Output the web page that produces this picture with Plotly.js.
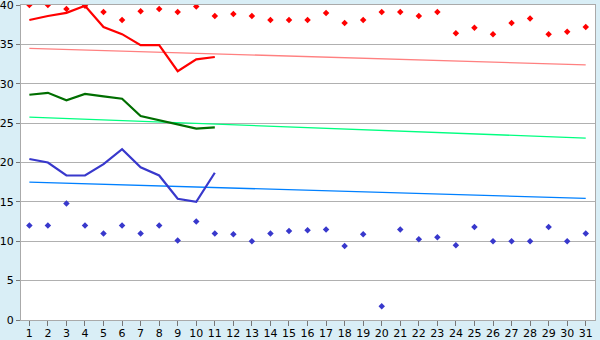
<!DOCTYPE html>
<html>
<head>
<meta charset="utf-8">
<script src="https://cdn.plot.ly/plotly-3.0.1.min.js"></script>
<style>html,body{margin:0;padding:0;background:#d9eef6;}#chart{width:600px;height:340px;}</style>
</head>
<body>
<div id="chart"></div>
<script>
const days = [1,2,3,4,5,6,7,8,9,10,11,12,13,14,15,16,17,18,19,20,21,22,23,24,25,26,27,28,29,30,31];
const tickLabels = days.map(String);
const redPoints = [40.0,40.0,39.5,39.9,39.1,38.1,39.2,39.5,39.1,39.8,38.6,38.85,38.6,38.1,38.1,38.1,39.0,37.7,38.1,39.1,39.1,38.6,39.1,36.4,37.1,36.3,37.7,38.3,36.3,36.6,37.2];
const redLineDays = [1,2,3,4,5,6,7,8,9,10,11];
const redLine = [38.1,38.6,39.0,39.9,37.2,36.3,34.9,34.9,31.6,33.1,33.4];
const greenLine = [28.6,28.85,27.9,28.7,28.4,28.1,25.9,25.35,24.8,24.3,24.45];
const blueLine = [20.45,20.0,18.35,18.35,19.8,21.7,19.4,18.35,15.4,15.0,18.7];
const bluePoints = [12.0,12.0,14.8,12.0,11.0,12.0,11.0,12.0,10.1,12.5,11.0,10.9,10.0,11.0,11.3,11.4,11.5,9.4,10.9,1.75,11.5,10.25,10.5,9.5,11.8,10.0,10.0,10.0,11.8,10.0,11.0];
const trendDays = [1,31];
const redTrend = [34.5,32.4];
const greenTrend = [25.75,23.1];
const blueTrend = [17.5,15.45];

const traces = [
  {x: trendDays, y: redTrend, mode:'lines', line:{color:'#ff8080', width:1.3}},
  {x: trendDays, y: greenTrend, mode:'lines', line:{color:'#00ff80', width:1.3}},
  {x: trendDays, y: blueTrend, mode:'lines', line:{color:'#0080ff', width:1.3}},
  {x: redLineDays, y: redLine, mode:'lines', line:{color:'#ff0000', width:2.2}},
  {x: redLineDays, y: greenLine, mode:'lines', line:{color:'#006e00', width:2.2}},
  {x: redLineDays, y: blueLine, mode:'lines', line:{color:'#3838cc', width:2.2}},
  {x: days, y: redPoints, mode:'markers', marker:{symbol:'diamond', size:5, color:'#ff0000'}},
  {x: days, y: bluePoints, mode:'markers', marker:{symbol:'diamond', size:5, color:'#3838cc'}}
];

const layout = {
  width:600, height:340,
  margin:{l:21, r:5, t:5, b:20, pad:0},
  paper_bgcolor:'#d9eef6',
  plot_bgcolor:'#ffffff',
  showlegend:false,
  font:{family:'DejaVu Sans', size:11, color:'#000000'},
  xaxis:{
    range:[0.55,31.5], tickmode:'array', tickvals:days, ticktext:tickLabels,
    showgrid:false, zeroline:false, showline:true, linecolor:'#aaaaaa', linewidth:1, mirror:true,
    ticks:'outside', ticklen:5, tickcolor:'#777777', ticklabeloverflow:'allow', ticklabelstandoff:-2,
    tickfont:{family:'DejaVu Sans', size:11, color:'#000'}
  },
  yaxis:{
    range:[0,40], tickmode:'linear', tick0:0, dtick:5,
    showgrid:true, gridcolor:'#b0b0b0', gridwidth:1, zeroline:false,
    showline:true, linecolor:'#aaaaaa', linewidth:1, mirror:true, ticklabeloverflow:'allow',
    ticks:'outside', ticklen:4, tickcolor:'#777777', tickfont:{family:'DejaVu Sans', size:11, color:'#000'}
  }
};
Plotly.newPlot('chart', traces, layout, {staticPlot:true, displayModeBar:false});
</script>
</body>
</html>
